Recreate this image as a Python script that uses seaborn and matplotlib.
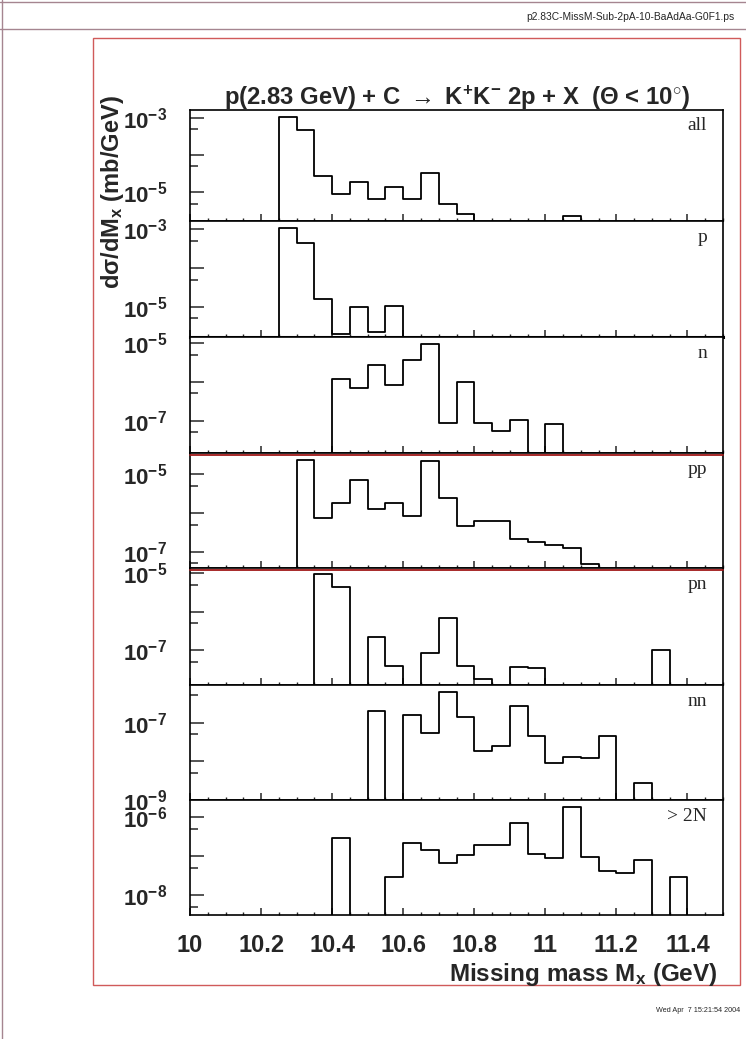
import numpy as np
import pandas as pd
import matplotlib
matplotlib.use('Agg')
import matplotlib.pyplot as plt
from matplotlib.lines import Line2D
from matplotlib.patches import Rectangle
from matplotlib.ticker import FixedLocator, MultipleLocator, FuncFormatter
import seaborn as sns

# 30 bins of 50 MeV from 10.0 to 11.5 GeV
edges = np.round(np.linspace(10.0, 11.5, 31), 3)
centers = (edges[:-1] + edges[1:]) / 2

# d(sigma)/dMx in mb/GeV per bin, 0 = empty bin
sig_all = [0, 0, 0, 0, 0, 1.1e-3, 4.7e-4, 2.8e-5, 9e-6, 1.9e-5,
           6.5e-6, 1.4e-5, 6.5e-6, 3.4e-5, 4.8e-6, 2.7e-6, 0, 0, 0, 0,
           0, 2.3e-6, 0, 0, 0, 0, 0, 0, 0, 0]
sig_p = [0, 0, 0, 0, 0, 1.08e-3, 4.3e-4, 1.6e-5, 2e-6, 1e-5,
         2.2e-6, 1.05e-5, 0, 0, 0, 0, 0, 0, 0, 0,
         0, 0, 0, 0, 0, 0, 0, 0, 0, 0]
sig_n = [0, 0, 0, 0, 0, 0, 0, 0, 1.18e-6, 6.9e-7,
         2.75e-6, 8.4e-7, 3.7e-6, 9.4e-6, 8.5e-8, 1e-6, 8.5e-8, 5.3e-8, 1.04e-7, 0,
         8e-8, 0, 0, 0, 0, 0, 0, 0, 0, 0]
sig_pp = [0, 0, 0, 0, 0, 0, 2.25e-5, 7.2e-7, 1.78e-6, 7.1e-6,
          1.25e-6, 1.78e-6, 8.5e-7, 2.1e-5, 2.4e-6, 4.5e-7, 6e-7, 6e-7, 2.1e-7, 1.74e-7,
          1.5e-7, 1.27e-7, 4.8e-8, 0, 0, 0, 0, 0, 0, 0]
sig_pn = [0, 0, 0, 0, 0, 0, 0, 9.4e-6, 4.3e-6, 0,
          2.2e-7, 4e-8, 0, 8.5e-8, 7.1e-7, 4e-8, 1.85e-8, 0, 3.7e-8, 3.4e-8,
          0, 0, 0, 0, 0, 0, 1e-7, 0, 0, 0]
sig_nn = [0, 0, 0, 0, 0, 0, 0, 0, 0, 0,
          2e-7, 0, 1.6e-7, 5.3e-8, 6.3e-7, 1.4e-7, 1.8e-8, 2.5e-8, 2.6e-7, 4.4e-8,
          9e-9, 1.3e-8, 1.2e-8, 4.4e-8, 0, 2.8e-9, 0, 0, 0, 0]
sig_2N = [0, 0, 0, 0, 0, 0, 0, 0, 3e-7, 0,
          0, 2.9e-8, 2.2e-7, 1.47e-7, 6.8e-8, 1.04e-7, 1.9e-7, 1.9e-7, 7e-7, 1.15e-7,
          8.7e-8, 1.8e-6, 9.5e-8, 4.2e-8, 3.6e-8, 8.1e-8, 0, 2.9e-8, 0, 0]

channels = ['all', 'p', 'n', 'pp', 'pn', 'nn', '> 2N']
series = [sig_all, sig_p, sig_n, sig_pp, sig_pn, sig_nn, sig_2N]
# log10 y-range of every panel
ylims_log = [(-5.77, -2.78), (-5.78, -2.79), (-7.83, -4.85), (-7.42, -4.46),
             (-7.90, -4.86), (-9.0, -6.03), (-8.51, -5.56)]

df = pd.concat([pd.DataFrame({'mass': centers, 'sigma': s, 'channel': c})
                for c, s in zip(channels, series)], ignore_index=True)

sns.set_theme(style='ticks')
plt.rcParams['font.family'] = ['Liberation Sans', 'DejaVu Sans']
plt.rcParams['mathtext.fontset'] = 'custom'
plt.rcParams['mathtext.rm'] = 'Liberation Sans'
plt.rcParams['mathtext.bf'] = 'Liberation Sans:bold'
plt.rcParams['mathtext.it'] = 'Liberation Sans:italic'

W, H = 746, 1039
fig = plt.figure(figsize=(W / 100, H / 100), dpi=100)
fig.patch.set_facecolor('white')

# page decorations
fig.add_artist(Line2D([0, 1], [1 - 1.5 / H, 1 - 1.5 / H], transform=fig.transFigure,
                      color='#a58590', lw=1))
fig.add_artist(Line2D([0, 1], [1 - 29 / H, 1 - 29 / H], transform=fig.transFigure,
                      color='#a58590', lw=1))
fig.add_artist(Line2D([1.5 / W, 1.5 / W], [0, 1], transform=fig.transFigure,
                      color='#a58590', lw=1))
fig.add_artist(Rectangle((93 / W, 1 - 985 / H), (740 - 93) / W, (985 - 38) / H,
                         transform=fig.transFigure, fill=False,
                         edgecolor='#d05a5a', lw=1))
fig.text(735 / W, 1 - 17 / H, 'p2.83C-MissM-Sub-2pA-10-BaAdAa-G0F1.ps',
         ha='right', va='center', fontsize=7.4)
fig.text(740 / W, 1 - 1011 / H, 'Wed Apr  7 15:21:54 2004',
         ha='right', va='center', fontsize=5.2)

left_px, right_px = 190, 723
bounds = [110, 221, 337, 453, 568, 685, 800, 915]

axes = []
for i, (ch, (lo, hi)) in enumerate(zip(channels, ylims_log)):
    top, bot = bounds[i], bounds[i + 1]
    ax = fig.add_axes([left_px / W, 1 - bot / H, (right_px - left_px) / W, (bot - top) / H])
    sub = df[df['channel'] == ch]
    sns.histplot(data=sub, x='mass', weights='sigma', bins=30, binrange=(10.0, 11.5),
                 element='step', fill=False, color='black', linewidth=1.3, ax=ax)
    ax.set_yscale('log')
    ax.set_xlim(10.0, 11.5)
    ax.set_ylim(10 ** lo, 10 ** hi)
    ax.set_xlabel('')
    ax.set_ylabel('')
    ax.set_facecolor('white')
    for sp in ax.spines.values():
        sp.set_visible(True)
        sp.set_color('black')
        sp.set_linewidth(1.2)

    decades = [d for d in range(int(np.floor(lo)), int(np.ceil(hi)) + 1)
               if lo - 1e-9 <= d <= hi]
    labeled = [int(np.floor(hi)), int(np.floor(hi)) - 2]
    minors = [np.log10(5) + d for d in range(int(np.floor(lo)) - 1, int(np.ceil(hi)) + 1)]
    minors = [10 ** m for m in minors if lo <= m <= hi]
    ax.yaxis.set_major_locator(FixedLocator([10.0 ** d for d in decades]))
    ax.yaxis.set_minor_locator(FixedLocator(minors))
    ax.yaxis.set_major_formatter(FuncFormatter(
        lambda v, pos, lab=labeled: (r'$\mathbf{10^{%d}}$' % round(np.log10(v)))
        if round(np.log10(v)) in lab else ''))
    ax.yaxis.set_minor_formatter(FuncFormatter(lambda v, pos: ''))

    ax.xaxis.set_major_locator(MultipleLocator(0.2))
    ax.xaxis.set_minor_locator(MultipleLocator(0.05))
    ax.tick_params(axis='y', which='major', direction='in', length=10, width=1.1,
                   labelsize=16, pad=16.5, left=True, right=False)
    ax.tick_params(axis='y', which='minor', direction='in', length=6, width=1.1,
                   left=True, right=False)
    ax.tick_params(axis='x', which='major', direction='in', length=5, width=1.1,
                   top=False, bottom=True)
    ax.tick_params(axis='x', which='minor', direction='in', length=2.5, width=1.0,
                   top=False, bottom=True)
    if i < len(channels) - 1:
        ax.tick_params(axis='x', labelbottom=False)
    else:
        ax.xaxis.set_major_formatter(FuncFormatter(lambda v, pos: '%g' % round(v, 2)))
        ax.tick_params(axis='x', labelsize=17, pad=14)
        for t in ax.get_xticklabels():
            t.set_fontweight('bold')

    ax.text(0.97, 0.86, ch, transform=ax.transAxes, ha='right', va='center',
            fontsize=14, family=['Liberation Serif', 'DejaVu Serif'])
    axes.append(ax)

axes[1].spines['bottom'].set_linewidth(2.2)
# red separator lines drawn by the original canvas
for yb in (453, 568):
    fig.add_artist(Line2D([left_px / W, right_px / W], [1 - (yb + 1.5) / H] * 2,
                          transform=fig.transFigure, color='#a01818', lw=1.3))

fig.text((left_px + right_px) / 2 / W, 1 - 98 / H,
         r'p(2.83 GeV) + C $\mathbf{\rightarrow}$ K$^{\mathbf{+}}$K$^{\mathbf{-}}$ 2p + X  '
         r'($\mathbf{\Theta}$ < 10$^{\mathbf{\circ}}$)',
         ha='center', va='center', fontsize=17.2, fontweight='bold')
fig.text(113 / W, 1 - 95 / H, r'd$\mathbf{\sigma}$/d$\mathbf{M_{x}}$ (mb/GeV)',
         rotation=90, ha='center', va='top', fontsize=17, fontweight='bold')
fig.text(718 / W, 1 - 975 / H, r'Missing mass $\mathbf{M_{x}}$ (GeV)',
         ha='right', va='center', fontsize=17.5, fontweight='bold')

fig.savefig('out.png', dpi=100, facecolor='white')
